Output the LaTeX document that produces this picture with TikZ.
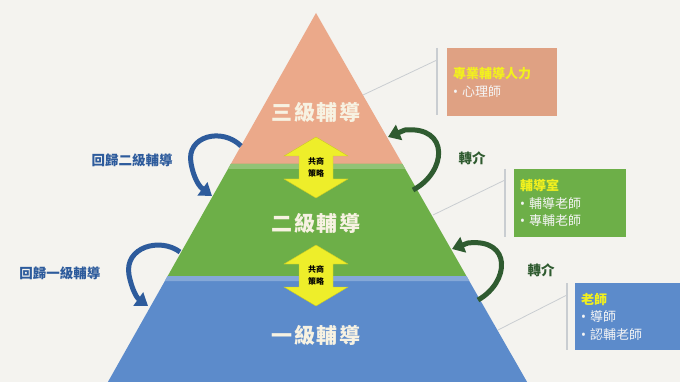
\documentclass[tikz,border=0pt]{standalone}
\usepackage{fontspec}
\setmainfont{Noto Sans CJK TC}
\newfontfamily\tierfont[LetterSpace=8]{Noto Sans CJK TC}
\newfontfamily\bulletfont{Noto Sans}
\newcommand{\itemdot}{{\bulletfont •}\hspace{4pt}}
\newcommand{\boxtitle}[1]{\textcolor{titleyellow}{\bfseries #1}}
\usepackage{xcolor}
\definecolor{paper}{HTML}{F4F3EF}
\definecolor{tierorange}{HTML}{EBA98A}
\definecolor{tiergreen}{HTML}{6DAF48}
\definecolor{tierblue}{HTML}{5C8BCB}
\definecolor{returnblue}{HTML}{2D5B9C}
\definecolor{referdark}{HTML}{2F5B30}
\definecolor{sharecolor}{HTML}{EEEE2A}
\definecolor{titleyellow}{HTML}{F2F01E}
\definecolor{bracketgray}{HTML}{C9CDD1}
\definecolor{labelcream}{HTML}{F7F2E2}
\usetikzlibrary{arrows.meta}
\tikzset{
	tierlabel/.style={text=labelcream, font=\tierfont\bfseries\fontsize{21}{21}\selectfont},
	sidelabel/.style={font=\bfseries\fontsize{13.5}{14}\selectfont},
	curvearrow/.style={line width=5pt, -{Triangle[width=16pt,length=12pt]}},
	infobox/.style={anchor=north west, inner xsep=6pt, inner ysep=0pt, align=left, text=white!92!gray, font=\fontsize{13}{17.5}\selectfont},
	sharearrow/.style={fill=sharecolor, draw=sharecolor!85!black, line width=0.4pt},
	sharetext/.style={font=\bfseries\fontsize{8}{12}\selectfont, align=center, inner sep=0pt},
	bracket/.style={draw=bracketgray, line width=1.2pt},
	linkline/.style={draw=bracketgray, line width=0.8pt},
}

\begin{document}
\begin{tikzpicture}[x=1pt, y=-1pt]
	\fill [paper] (0,0) rectangle (680,382);
	\useasboundingbox (0,0) rectangle (680,382);
	% pyramid
	\fill [tierorange] (316,13) -- (402.4,164) -- (230.8,164) -- cycle;
	\fill [tiergreen] (230.8,164) -- (402.4,164) -- (466.4,276) -- (167.7,276) -- cycle;
	\fill [tiergreen!75!white] (230.8,164) -- (402.4,164) -- (405.2,169) -- (228,169) -- cycle;
	\fill [tierblue] (167.7,276) -- (466.4,276) -- (527.1,382) -- (107.9,382) -- cycle;
	\fill [tierblue!75!white] (167.7,276) -- (466.4,276) -- (469.3,281) -- (164.8,281) -- cycle;
	\node [tierlabel] (tier3) at (316,112) {三級輔導};
	\node [tierlabel] (tier2) at (316,223) {二級輔導};
	\node [tierlabel] (tier1) at (316,335) {一級輔導};
	% shared strategy arrows
	\foreach \top/\name in {137/shareA, 245/shareB}
	{
		\draw [sharearrow] (316,\top) -- ++(32,19) -- ++(-15,0) -- ++(0,23) -- ++(15,0) -- ++(-32,19) -- ++(-32,-19) -- ++(15,0) -- ++(0,-23) -- ++(-15,0) -- cycle;
		\node [sharetext] (\name) at (316,\top+30.5) {共商\\策略};
	}
	% return arrows, left
	\draw [curvearrow, returnblue] (241,146) .. controls (222,127) and (186,136) .. (191,163) .. controls (194,180) and (200,187) .. (212,196);
	\draw [curvearrow, returnblue] (180,252) .. controls (160,237) and (124,247) .. (129,275) .. controls (132,290) and (137,298) .. (148,306);
	\node [sidelabel, text=returnblue] (back2) at (132,160) {回歸二級輔導};
	\node [sidelabel, text=returnblue] (back1) at (60,273) {回歸一級輔導};
	% referral arrows, right
	\draw [curvearrow, referdark] (413,190) .. controls (447,172) and (450,126) .. (405,130) -- (388,137);
	\draw [curvearrow, referdark] (478,300) .. controls (510,282) and (512,238) .. (468,243) -- (452,249);
	\node [sidelabel, text=referdark] (refer3) at (472,158) {轉介};
	\node [sidelabel, text=referdark] (refer2) at (541,270) {轉介};
	% info boxes
	\node [infobox, fill=tierorange!95!black, text width=98pt, minimum height=68pt] (box3) at (447,48) {\boxtitle{專業輔導人力}\\\itemdot 心理師};
	\node [infobox, fill=tiergreen, text width=100pt, minimum height=68pt] (box2) at (514,169) {\boxtitle{輔導室}\\\itemdot 輔導老師\\\itemdot 專輔老師};
	\node [infobox, fill=tierblue, text width=93pt, minimum height=67pt] (box1) at (575,283) {\boxtitle{老師}\\\itemdot 導師\\\itemdot 認輔老師};
	% brackets and links
	\draw [bracket] (437,48) coordinate (b3t) -- (437,115) coordinate (b3b);
	\draw [bracket] (505,169) coordinate (b2t) -- (505,237) coordinate (b2b);
	\draw [bracket] (567,283) coordinate (b1t) -- (567,350) coordinate (b1b);
	\coordinate (p3) at (363,95);
	\coordinate (p2) at (433,215);
	\coordinate (p1) at (498,330);
	\draw [linkline] (p3) -- (b3t |- 0,60);
	\draw [linkline] (p2) -- (b2t |- 0,180);
	\draw [linkline] (p1) -- (b1t |- 0,295);
\end{tikzpicture}
\end{document}
